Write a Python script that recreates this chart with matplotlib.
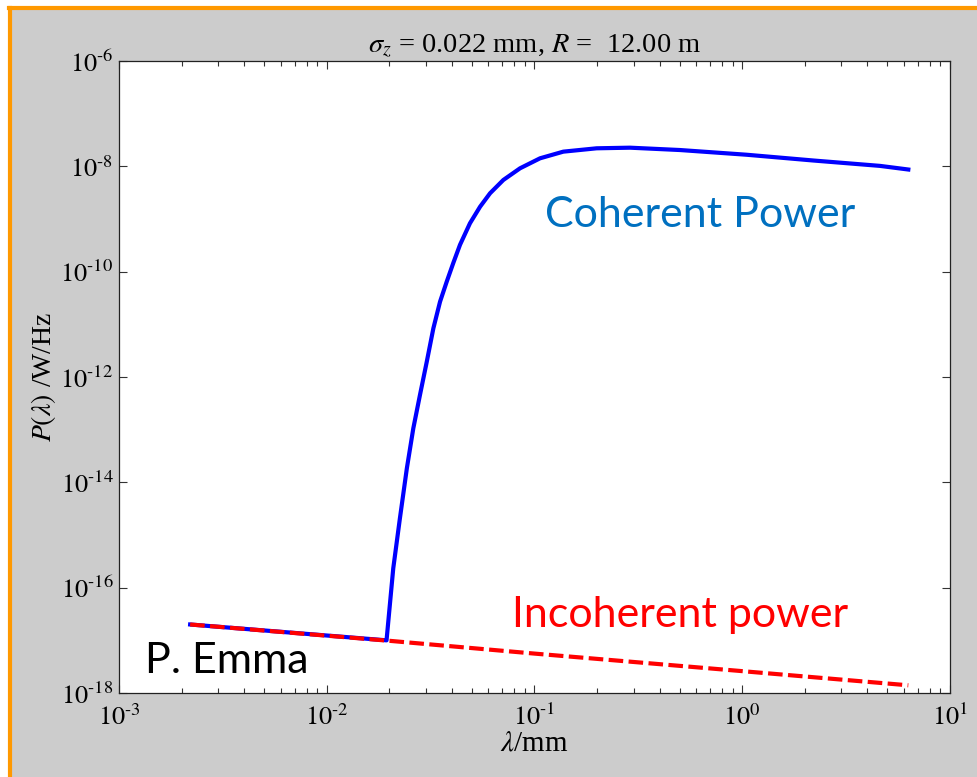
import matplotlib
matplotlib.use("Agg")
import numpy as np
import matplotlib.pyplot as plt
from matplotlib.patches import Rectangle
from matplotlib.lines import Line2D
from matplotlib.ticker import FixedLocator, FuncFormatter, LogLocator

# spectrum, wavelength in mm, power in W/Hz
lam_coh = [2.2e-3, 0.0194, 0.0209, 0.0225, 0.0243, 0.0261, 0.0281, 0.0303,
           0.0326, 0.0351, 0.0378, 0.0407, 0.0438, 0.0489, 0.0547, 0.0611,
           0.0708, 0.0852, 0.1063, 0.1376, 0.1992, 0.2882, 0.5012, 1.05,
           2.20, 4.60, 6.30]
p_coh = [2.0e-17, 1.0e-17, 2.33e-16, 2.08e-15, 1.85e-14, 1.06e-13, 4.56e-13, 1.95e-12,
         8.41e-12, 2.69e-11, 6.46e-11, 1.48e-10, 3.24e-10, 8.29e-10, 1.71e-9, 3.08e-9,
         5.51e-9, 9.18e-9, 1.42e-8, 1.90e-8, 2.20e-8, 2.26e-8, 2.04e-8, 1.66e-8,
         1.29e-8, 1.02e-8, 8.7e-9]

lam_inc = [2.2e-3, 0.02, 0.1, 1.0, 6.3]
p_inc = [2.0e-17, 9.8e-18, 5.6e-18, 2.6e-18, 1.4e-18]

y_major = [1e-18, 1e-16, 1e-14, 1e-12, 1e-10, 1e-8, 1e-6]

plt.rcParams['mathtext.fontset'] = 'stix'
plt.rcParams['font.family'] = ['Liberation Serif', 'DejaVu Serif']


def pow10(v, pos):
    e = int(round(np.log10(v)))
    if e < 0:
        return r'$10^{\text{-}%d}$' % (-e)
    return r'$10^{%d}$' % e


W, H = 978, 777
fig = plt.figure(figsize=(W / 100, H / 100), dpi=100, facecolor='white')

# gray slide background with orange frame on top/left
fig.patches.append(Rectangle((10 / W, 0), 1, 1 - 8 / H, transform=fig.transFigure,
                             facecolor='#cccccc', edgecolor='none', zorder=-10))
fig.lines.append(Line2D([10 / W, 10 / W], [0, 1 - 8 / H], transform=fig.transFigure,
                        color='#ff9900', lw=3.0, zorder=-5))
fig.lines.append(Line2D([8.5 / W, 1], [1 - 8 / H, 1 - 8 / H], transform=fig.transFigure,
                        color='#ff9900', lw=3.0, zorder=-5))

x0, x1, y0, y1 = 119, 950, 61, 693
ax = fig.add_axes([x0 / W, (H - y1) / H, (x1 - x0) / W, (y1 - y0) / H])
ax.set_zorder(5)
ax.set_facecolor('white')

ax.plot(lam_coh, p_coh, color='#0000ff', lw=3.0, zorder=2, solid_joinstyle='round')
ax.plot(lam_inc, p_inc, color='#ff0000', lw=3.0, dashes=(3.5, 1.3), zorder=3)

ax.set_xscale('log')
ax.set_yscale('log')
ax.set_xlim(1e-3, 1e1)
ax.set_ylim(1e-18, 1e-6)

ax.yaxis.set_major_locator(FixedLocator(y_major))
ax.yaxis.set_major_formatter(FuncFormatter(pow10))
ax.yaxis.set_minor_locator(FixedLocator([]))
ax.xaxis.set_major_locator(LogLocator(base=10))
ax.xaxis.set_major_formatter(FuncFormatter(pow10))
ax.xaxis.set_minor_locator(LogLocator(base=10, subs=range(2, 10)))

ax.tick_params(which='both', direction='in', top=True, right=True, labelsize=19,
               width=0.8, color='#333333')
ax.tick_params(which='major', length=6)
ax.tick_params(which='minor', length=3.3)
ax.tick_params(axis='x', pad=8)
ax.tick_params(axis='y', pad=4)
for s in ax.spines.values():
    s.set_linewidth(0.9)
    s.set_color('#222222')

ax.set_title(r'$\sigma_z$ = 0.022 mm, $R$ =  12.00 m', fontsize=20.5, pad=7)
ax.set_xlabel(r'$\lambda$/mm', fontsize=21, labelpad=0)
ax.set_ylabel(r'$P(\lambda)$ /W/Hz', fontsize=20, labelpad=2)

ax.text(0.5126, 0.7373, 'Coherent Power', transform=ax.transAxes, fontsize=31,
        family='Lato', color='#0070c0', va='baseline')
ax.text(0.473, 0.1044, 'Incoherent power', transform=ax.transAxes, fontsize=31,
        family='Lato', color='#ff0000', va='baseline')
ax.text(0.0313, 0.0316, 'P. Emma', transform=ax.transAxes, fontsize=31,
        family='Lato', color='black', va='baseline')

fig.savefig('out.png', dpi=100, facecolor=fig.get_facecolor())
